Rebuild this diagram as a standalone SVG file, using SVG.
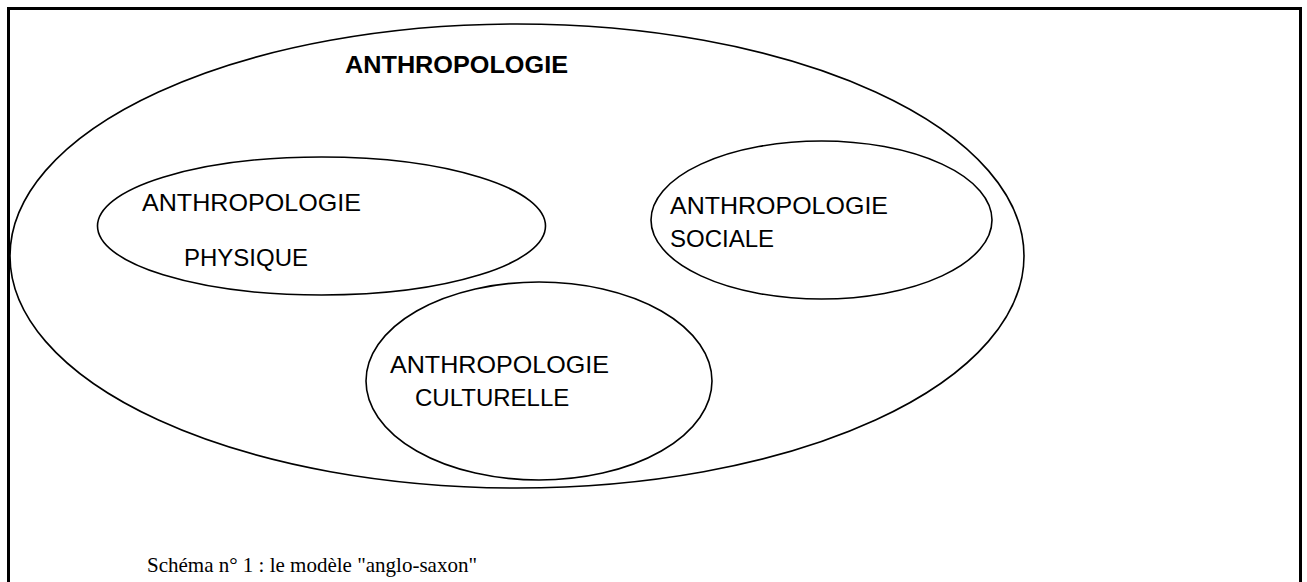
<svg xmlns="http://www.w3.org/2000/svg" width="1307" height="582" viewBox="0 0 1307 582">
<style>
.frame{fill:none;stroke:#000;stroke-width:3}
.ell{fill:none;stroke:#000;stroke-width:1.6}
.lbl{font-family:"Liberation Sans",Arial,sans-serif;font-size:24px;fill:#000}
.ttl{font-family:"Liberation Sans",Arial,sans-serif;font-size:24px;font-weight:bold;fill:#000}
.cap{font-family:"Liberation Serif","Times New Roman",serif;font-size:21px;fill:#000}
</style>
<rect x="0" y="0" width="1307" height="582" fill="#fff"/>
<rect class="frame" x="8.5" y="8.5" width="1292" height="590"/>
<g id="anthropologie">
<ellipse class="ell" cx="517" cy="256" rx="507" ry="232"/>
<text class="ttl" x="345" y="73" textLength="223" lengthAdjust="spacingAndGlyphs">ANTHROPOLOGIE</text>
</g>
<g id="physique">
<ellipse class="ell" cx="321.5" cy="226" rx="224" ry="69"/>
<text class="lbl" x="142" y="211" textLength="219" lengthAdjust="spacingAndGlyphs">ANTHROPOLOGIE</text>
<text class="lbl" x="184" y="266">PHYSIQUE</text>
</g>
<g id="sociale">
<ellipse class="ell" cx="821.5" cy="220" rx="170.5" ry="79"/>
<text class="lbl" x="670" y="214" textLength="218" lengthAdjust="spacingAndGlyphs">ANTHROPOLOGIE</text>
<text class="lbl" x="670" y="247">SOCIALE</text>
</g>
<g id="culturelle">
<ellipse class="ell" cx="539" cy="381" rx="173" ry="99"/>
<text class="lbl" x="390" y="373" textLength="219" lengthAdjust="spacingAndGlyphs">ANTHROPOLOGIE</text>
<text class="lbl" x="415" y="406">CULTURELLE</text>
</g>
<g id="connectors"></g>
<text class="cap" x="147" y="572">Schéma n° 1 : le modèle "anglo-saxon"</text>
</svg>
